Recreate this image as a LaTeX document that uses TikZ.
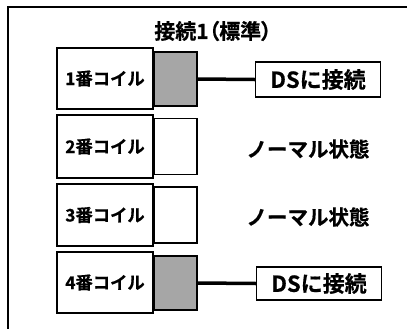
\documentclass[tikz,border=0pt]{standalone}
\usepackage{fontspec}
\setmainfont{Noto Sans CJK JP}[BoldFont={* Bold},BoldFeatures={FakeBold=0.6}]
\newfontfamily\titlefont{Noto Sans CJK JP}[UprightFont={* Bold},UprightFeatures={FakeBold=0.6},RawFeature=+palt]
\begin{document}
\begin{tikzpicture}[x=1bp,y=-1bp,
  coil/.style={draw,line width=1.4bp,fill=white,minimum width=96bp,inner sep=0pt,font=\bfseries\fontsize{17.3bp}{18bp}\selectfont},
  sw/.style={draw,line width=1.4bp,minimum width=43bp,inner sep=0pt},
  on/.style={sw,fill=black!35},
  ds/.style={draw,line width=1.4bp,minimum width=125bp,inner sep=0pt,font=\bfseries\fontsize{22bp}{23bp}\selectfont},
  lbl/.style={font=\bfseries\fontsize{20.5bp}{21bp}\selectfont,inner sep=0pt},
  wire/.style={line width=3.5bp}]
\useasboundingbox (0,0) rectangle (407,329);
\draw[line width=2.5bp] (8,340) -- (8,7) -- (420,7);
\node[font=\titlefont\fontsize{21bp}{22bp}\selectfont,inner sep=0pt] (title) at (213,31) {接続1（標準）};
% coils
\node[coil,minimum height=61bp] (c1) at (105,78.5) {1番コイル};
\node[coil,minimum height=63bp] (c2) at (105,146.5) {2番コイル};
\node[coil,minimum height=62bp] (c3) at (105,215) {3番コイル};
\node[coil,minimum height=61bp] (c4) at (105,282.5) {4番コイル};
% switches
\node[on,minimum height=54bp] (s1) at (175.5,79) {};
\node[sw,minimum height=56bp] (s2) at (175.5,146.5) {};
\node[sw,minimum height=56bp] (s3) at (175.5,215) {};
\node[on,minimum height=54bp] (s4) at (175.5,283) {};
% DS boxes
\node[ds,minimum height=35bp] (d1) at (318,79.5) {DSに接続};
\node[ds,minimum height=33bp] (d4) at (319,283.5) {DSに接続};
\node[lbl] (n2) at (308,149) {ノーマル状態};
\node[lbl] (n3) at (308,217) {ノーマル状態};
\draw[wire] (s1.east) -- (d1.west);
\draw[wire] (s4.east) -- (d4.west);
\end{tikzpicture}
\end{document}
